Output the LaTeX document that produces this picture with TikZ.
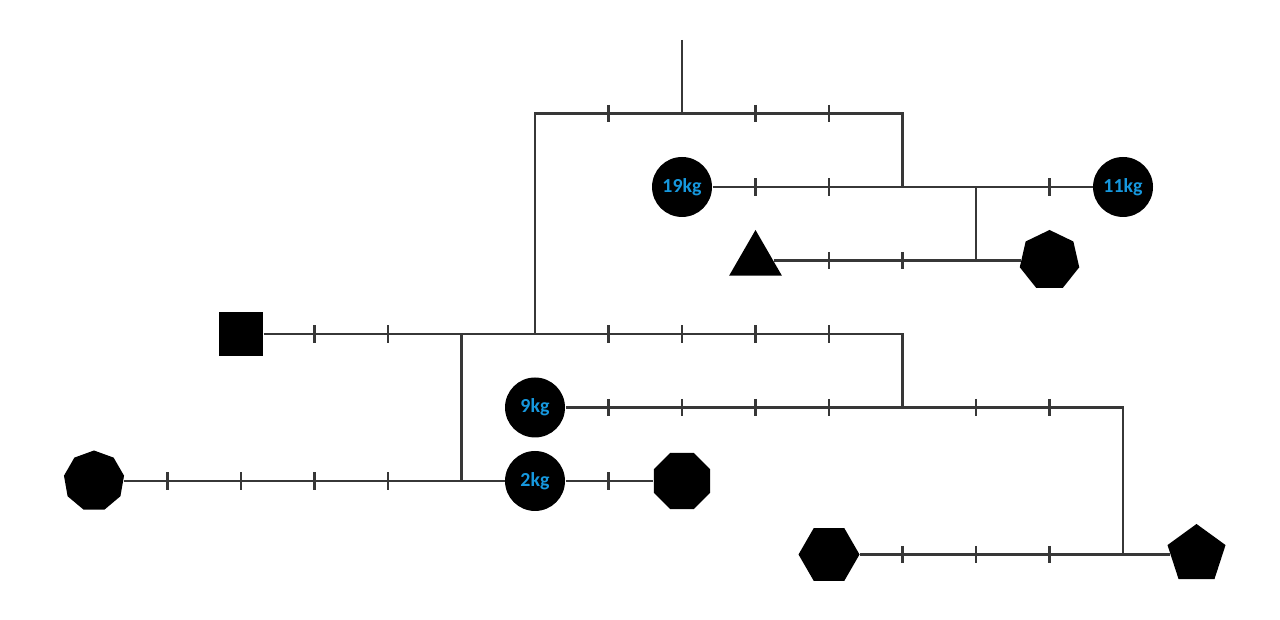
\documentclass[tikz,border=0pt]{standalone}
\usepackage{fontspec}
\setmainfont{Carlito}
\usetikzlibrary{shapes.geometric}

\definecolor{rodgray}{RGB}{55,55,55}
\definecolor{kgblue}{RGB}{22,152,222}

\tikzset{
  rod/.style={draw=rodgray, line width=0.9pt},
  weight/.style={circle, fill=black, minimum size=0.816cm, inner sep=0pt,
    text=kgblue, font=\bfseries\fontsize{7.7}{9}\selectfont},
  piece/.style={regular polygon, regular polygon sides=#1, fill=black,
    minimum size=0.83cm, inner sep=0pt},
  block/.style={rectangle, fill=black, minimum size=0.6cm, inner sep=0pt}
}

\begin{document}
\begin{tikzpicture}
\useasboundingbox (-1.279, 0.544) rectangle (16.136, -7.891);

% hanging points on the rods
\coordinate (top) at (8,0);
\coordinate (r1l) at (6,-1);
\coordinate (r1m) at (8,-1);
\coordinate (r1r) at (11,-1);
\coordinate (r2a) at (11,-2);
\coordinate (r2b) at (12,-2);
\coordinate (r3m) at (12,-3);
\coordinate (r4a) at (5,-4);
\coordinate (r4b) at (6,-4);
\coordinate (r4r) at (11,-4);
\coordinate (r5a) at (11,-5);
\coordinate (r5r) at (14,-5);
\coordinate (r6m) at (5,-6);
\coordinate (r7m) at (14,-7);

% weights
\node[weight] (w19) at (8,-2) {19kg};
\node[weight] (w11) at (14,-2) {11kg};
\node[piece=3] (tri) at (9,-3) {};
\node[piece=7] (hepta) at (13,-3) {};
\node[block] (sq) at (2,-4) {};
\node[weight] (w9) at (6,-5) {9kg};
\node[piece=9] (nona) at (0,-6) {};
\node[weight] (w2) at (6,-6) {2kg};
\node[piece=8] (octa) at (8,-6) {};
\node[piece=6] (hexa) at (10,-7) {};
\node[piece=5] (penta) at (15,-7) {};

% rods and strings
\draw[rod] (top) -- (r1m);
\draw[rod] (r4b) -- (r1l) -- (r1r) -- (r2a);
\draw[rod] (w19) -- (w11);
\draw[rod] (r2b) -- (r3m);
\draw[rod] (tri) -- (hepta);
\draw[rod] (sq) -- (r4r) -- (r5a);
\draw[rod] (w9) -- (r5r) -- (r7m);
\draw[rod] (r4a) -- (r6m);
\draw[rod] (nona) -- (w2);
\draw[rod] (w2) -- (octa);
\draw[rod] (hexa) -- (penta);

% tick marks
\foreach \x/\y in {7/-1, 9/-1, 10/-1, 9/-2, 10/-2, 13/-2, 10/-3, 11/-3,
  3/-4, 4/-4, 7/-4, 8/-4, 9/-4, 10/-4, 7/-5, 8/-5, 9/-5, 10/-5, 12/-5, 13/-5,
  1/-6, 2/-6, 3/-6, 4/-6, 7/-6, 11/-7, 12/-7, 13/-7}
  \draw[rod] (\x,\y+0.116) -- (\x,\y-0.116);
\end{tikzpicture}
\end{document}
